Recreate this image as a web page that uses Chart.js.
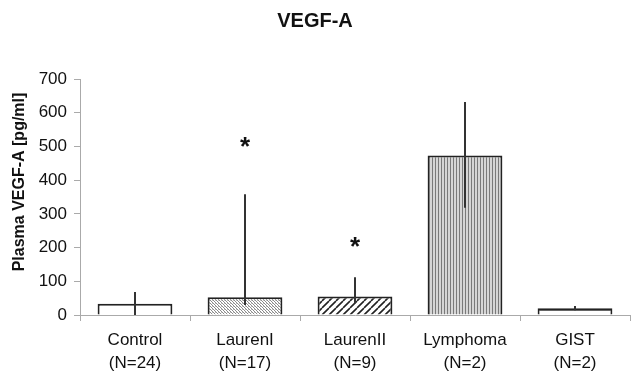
<!DOCTYPE html>
<html>
<head>
<meta charset="utf-8">
<script src="https://cdn.jsdelivr.net/npm/chart.js@4/dist/chart.umd.min.js"></script>
<style>
  html, body { margin: 0; padding: 0; background: #fff; }
  #wrap { width: 637px; height: 375px; }
</style>
</head>
<body>
<div id="wrap"><canvas id="chart" width="637" height="375"></canvas></div>
<script>
(() => {
    // values
    const groups = ['Control', 'LaurenI', 'LaurenII', 'Lymphoma', 'GIST'];
    const groupSizes = ['(N=24)', '(N=17)', '(N=9)', '(N=2)', '(N=2)'];
    const vegfMeans = [33, 53, 55, 473, 20];
    const errLow = [0, 30, 35, 318, 14];
    const errHigh = [68, 358, 112, 632, 27];
    const starMarks = [null, 514, 217, null, null];
    const yTicks = [0, 100, 200, 300, 400, 500, 600, 700];
    const yAxisTitle = 'Plasma VEGF-A [pg/ml]';

    const fontFamily = '"Liberation Sans", Arial, sans-serif';

    function makePattern(kind) {
        const c = document.createElement('canvas');
        const ctx = c.getContext('2d');
        if (kind === 'fine') {
            c.width = 3; c.height = 3;
            ctx.fillStyle = '#fff';
            ctx.fillRect(0, 0, 3, 3);
            ctx.fillStyle = '#8a8a8a';
            ctx.fillRect(0, 0, 1, 1);
            ctx.fillRect(1, 1, 1, 1);
            ctx.fillRect(2, 2, 1, 1);
            ctx.fillStyle = '#c4c4c4';
            ctx.fillRect(2, 0, 1, 1);
            return ctx.createPattern(c, 'repeat');
        }
        if (kind === 'diag') {
            c.width = 7; c.height = 7;
            ctx.fillStyle = '#fff';
            ctx.fillRect(0, 0, 7, 7);
            ctx.strokeStyle = '#222';
            ctx.lineWidth = 1.6;
            ctx.beginPath();
            for (let o = -7; o <= 14; o += 7) {
                ctx.moveTo(o, 7);
                ctx.lineTo(o + 7, 0);
            }
            ctx.stroke();
            return ctx.createPattern(c, 'repeat');
        }
        if (kind === 'vert') {
            c.width = 3; c.height = 3;
            ctx.fillStyle = '#d6d6d6';
            ctx.fillRect(0, 0, 3, 3);
            ctx.fillStyle = '#7a7a7a';
            ctx.fillRect(0, 0, 1, 3);
            return ctx.createPattern(c, 'repeat');
        }
        if (kind === 'horiz') {
            c.width = 4; c.height = 5;
            ctx.fillStyle = '#fff';
            ctx.fillRect(0, 0, 4, 5);
            ctx.fillStyle = '#444';
            ctx.fillRect(0, 0, 4, 1);
            return ctx.createPattern(c, 'repeat');
        }
        return '#fff';
    }

    const fills = [
        '#ffffff',
        makePattern('fine'),
        makePattern('diag'),
        makePattern('vert'),
        makePattern('horiz')
    ];

    const errorBarPlugin = {
        id: 'errorBars',
        afterDatasetsDraw(chart) {
            const ctx = chart.ctx;
            const meta = chart.getDatasetMeta(0);
            const yScale = chart.scales.y;
            ctx.save();
            ctx.strokeStyle = '#333';
            ctx.lineWidth = 2;
            meta.data.forEach((bar, i) => {
                const x = Math.round(bar.x);
                ctx.beginPath();
                ctx.moveTo(x, yScale.getPixelForValue(errLow[i]));
                ctx.lineTo(x, yScale.getPixelForValue(errHigh[i]));
                ctx.stroke();
            });
            ctx.fillStyle = '#111';
            ctx.font = 'bold 26px ' + fontFamily;
            ctx.textAlign = 'center';
            ctx.textBaseline = 'middle';
            meta.data.forEach((bar, i) => {
                if (starMarks[i] !== null) {
                    ctx.fillText('*', bar.x, yScale.getPixelForValue(starMarks[i]) + 6);
                }
            });
            ctx.restore();
        }
    };

    // y axis title, placed like the original (a little above the plot's middle)
    const yTitlePlugin = {
        id: 'yTitle',
        afterDraw(chart) {
            const ctx = chart.ctx;
            const area = chart.chartArea;
            ctx.save();
            ctx.translate(20, (area.top + area.bottom) / 2 - 15);
            ctx.rotate(-Math.PI / 2);
            ctx.fillStyle = '#111';
            ctx.font = 'bold 16px ' + fontFamily;
            ctx.textAlign = 'center';
            ctx.textBaseline = 'middle';
            ctx.fillText(yAxisTitle, 0, 0);
            ctx.restore();
        }
    };

    new Chart(document.getElementById('chart'), {
        type: 'bar',
        data: {
            labels: groups.map((g, i) => [g, groupSizes[i]]),
            datasets: [{
                data: vegfMeans,
                backgroundColor: fills,
                borderColor: '#222',
                borderWidth: 2,
                barPercentage: 0.68,
                categoryPercentage: 1
            }]
        },
        options: {
            responsive: false,
            animation: false,
            layout: { padding: { left: 0, right: 7, top: 9, bottom: 0 } },
            plugins: {
                legend: { display: false },
                tooltip: { enabled: false },
                title: {
                    display: true,
                    text: 'VEGF-A',
                    color: '#111',
                    font: { family: fontFamily, size: 20, weight: 'bold' },
                    padding: { top: 0, bottom: 46 }
                }
            },
            scales: {
                x: {
                    afterFit(axis) { axis.height = 60; },
                    grid: {
                        offset: true,
                        drawOnChartArea: false,
                        color: '#aaa',
                        tickLength: 6
                    },
                    border: { color: '#aaa', width: 1 },
                    ticks: {
                        color: '#111',
                        font: { family: fontFamily, size: 17, lineHeight: 1.4 },
                        padding: 7,
                        maxRotation: 0
                    }
                },
                y: {
                    min: 0,
                    max: 700,
                    afterFit(axis) { axis.width = 80; },
                    afterBuildTicks(axis) {
                        axis.ticks = yTicks.map(v => ({ value: v }));
                    },
                    grid: {
                        drawOnChartArea: false,
                        color: '#aaa',
                        tickLength: 6
                    },
                    border: { color: '#aaa', width: 1 },
                    ticks: {
                        color: '#111',
                        font: { family: fontFamily, size: 17 },
                        padding: 7
                    }
                }
            }
        },
        plugins: [errorBarPlugin, yTitlePlugin]
    });
})();
</script>
</body>
</html>
